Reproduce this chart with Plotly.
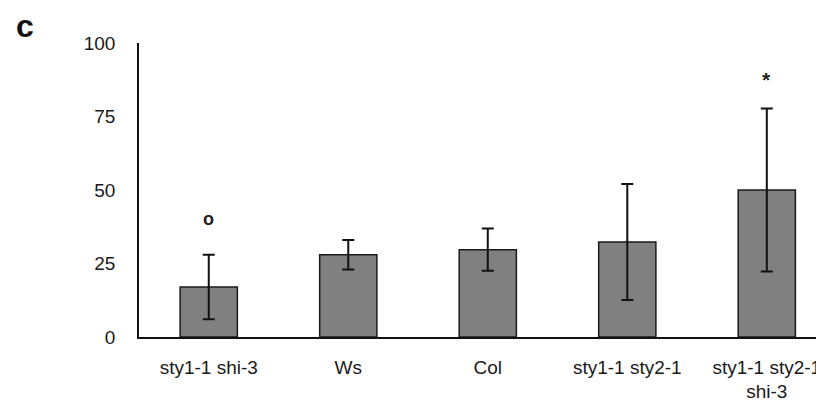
import plotly.graph_objects as go

categories = ["sty1-1 shi-3", "Ws", "Col", "sty1-1 sty2-1", "sty1-1 sty2-1<br>shi-3"]
values = [17, 28, 29.7, 32.3, 50]
errors = [11, 5, 7.2, 19.7, 27.7]
marks = ["<b>o</b>", "", "", "", "<b>*</b>"]
y_ticks = [0, 25, 50, 75, 100]

font = "Liberation Sans, Arial, sans-serif"

fig = go.Figure()
fig.add_trace(go.Bar(
    x=list(range(len(categories))), y=values,
    width=0.41,
    marker=dict(color="#808080", line=dict(color="#1a1a1a", width=1.5)),
    error_y=dict(type="data", array=errors, visible=True, color="#111111",
                 thickness=2, width=6),
))

for i, (m, v, e) in enumerate(zip(marks, values, errors)):
    if m:
        is_o = "o" in m
        fig.add_annotation(x=i, y=v + e, text=m, showarrow=False,
                           yshift=36 if is_o else 29,
                           font=dict(family=font, size=18 if is_o else 21, color="#222"))

fig.add_annotation(xref="paper", yref="paper", x=-0.183, y=1.058, text="<b>c</b>",
                   showarrow=False, font=dict(family=font, size=32, color="#111"),
                   xanchor="left", yanchor="middle")

fig.update_layout(
    width=824, height=406,
    margin=dict(l=131, r=8, t=35, b=77),
    plot_bgcolor="white", paper_bgcolor="white",
    showlegend=False,
    font=dict(family=font, size=19, color="#1a1a1a"),
)
fig.update_xaxes(
    range=[-0.5, 4.41],
    tickvals=list(range(len(categories))), ticktext=categories,
    showline=True, linecolor="#111", linewidth=1.5,
    showgrid=False, ticks="", zeroline=False,
    ticklabelstandoff=12,
    tickfont=dict(family=font, size=19),
)
fig.update_yaxes(
    range=[0, 100], tickvals=y_ticks,
    showline=True, linecolor="#111", linewidth=1.5,
    showgrid=False, ticks="", zeroline=False,
    ticklabelstandoff=18,
    tickfont=dict(family=font, size=19),
)

fig.write_html("out.html")
